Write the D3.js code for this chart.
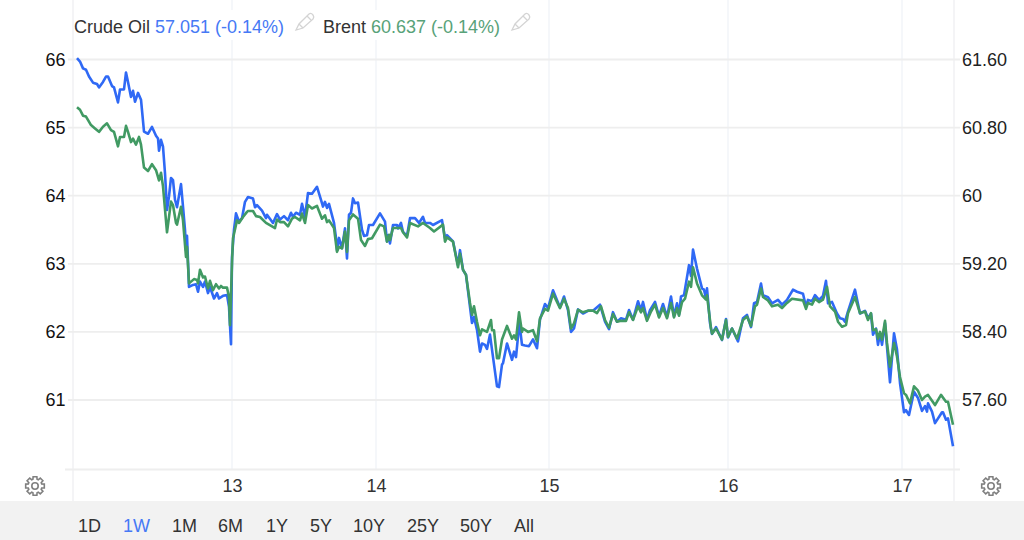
<!DOCTYPE html>
<html>
<head>
<meta charset="utf-8">
<script src="https://cdn.jsdelivr.net/npm/d3@7"></script>
<style>
  html, body { margin: 0; padding: 0; background: #fff; }
  svg { display: block; font-family: "Liberation Sans", Arial, sans-serif; }
</style>
</head>
<body>
<div id="chart"></div>
<script>
// [bar number, price], bars run along the ordinal time axis
const crude = [[1,66.02],[4,65.97],[7,65.87],[10,65.85],[13,65.75],[17,65.66],[21,65.64],[23,65.59],[27,65.67],[30,65.75],[32,65.75],[36,65.61],[38,65.59],[42,65.37],[44,65.56],[48,65.56],[50,65.81],[52,65.67],[55,65.45],[57,65.54],[59,65.38],[62,65.51],[65,65.41],[68,64.94],[72,64.91],[76,65.01],[80,64.88],[82,64.84],[83,64.66],[85,64.82],[87,64.72],[89,64.33],[91,63.79],[93,63.99],[95,64.26],[97,64.23],[99,63.94],[101,63.83],[105,64.17],[107,63.84],[109,63.50],[110,63.20],[111,63.41],[113,62.66],[117,62.69],[120,62.70],[122,62.59],[124,62.74],[127,62.66],[129,62.74],[132,62.57],[134,62.66],[138,62.49],[141,62.57],[143,62.49],[147,62.53],[151,62.54],[153,62.37],[155,61.82],[156,63.10],[158,63.50],[160,63.74],[163,63.62],[166,63.67],[169,63.91],[172,63.98],[177,63.96],[179,63.83],[181,63.86],[186,63.78],[190,63.67],[191,63.72],[197,63.60],[201,63.73],[204,63.65],[208,63.70],[212,63.64],[215,63.75],[217,63.69],[220,63.75],[224,63.72],[226,63.88],[229,63.69],[232,64.04],[236,64.03],[241,64.13],[245,63.94],[247,63.84],[249,63.91],[251,63.82],[253,63.88],[258,63.60],[260,63.38],[261,63.20],[263,63.38],[266,63.23],[269,63.52],[271,63.08],[273,63.72],[275,63.75],[277,63.96],[279,63.89],[282,63.90],[286,63.50],[288,63.41],[291,63.42],[293,63.57],[297,63.57],[304,63.74],[309,63.62],[311,63.33],[312,63.42],[314,63.30],[317,63.57],[321,63.57],[322,63.52],[325,63.60],[327,63.47],[331,63.41],[334,63.67],[339,63.67],[343,63.60],[347,63.69],[349,63.60],[354,63.60],[357,63.57],[366,63.64],[369,63.38],[371,63.42],[377,63.33],[382,62.98],[384,63.20],[387,62.91],[390,62.84],[396,62.13],[398,62.22],[401,62.03],[404,61.71],[406,61.83],[409,61.81],[411,61.75],[414,61.96],[416,61.74],[421,61.20],[423,61.19],[426,61.52],[427,61.54],[431,61.83],[436,61.59],[438,61.71],[440,61.63],[442,61.93],[443,62.18],[446,61.81],[449,61.80],[453,61.79],[457,61.89],[461,61.76],[464,62.18],[469,62.41],[472,62.35],[477,62.61],[484,62.36],[488,62.52],[492,62.32],[495,62.00],[498,62.05],[502,62.33],[507,62.27],[512,62.31],[517,62.31],[524,62.40],[529,62.15],[533,62.04],[537,62.29],[541,62.15],[545,62.20],[550,62.18],[553,62.32],[557,62.18],[562,62.45],[565,62.32],[567,62.44],[571,62.18],[574,62.32],[579,62.44],[583,62.23],[587,62.41],[591,62.22],[595,62.52],[598,62.23],[601,62.42],[603,62.25],[605,62.52],[608,62.54],[613,62.98],[615,62.82],[617,63.21],[621,62.93],[626,62.64],[628,62.62],[630,62.49],[631,62.64],[634,62.13],[636,61.97],[640,62.07],[646,61.88],[650,62.19],[652,61.92],[656,62.05],[662,61.86],[667,62.20],[671,62.25],[675,62.07],[678,62.42],[681,62.44],[685,62.71],[687,62.54],[692,62.51],[696,62.42],[702,62.47],[706,62.40],[711,62.47],[717,62.62],[721,62.59],[727,62.56],[730,62.37],[732,62.47],[736,62.45],[739,62.54],[743,62.47],[747,62.53],[750,62.75],[752,62.42],[756,62.44],[761,62.27],[764,62.20],[767,62.19],[769,62.15],[772,62.30],[779,62.62],[784,62.27],[789,62.31],[792,62.20],[795,62.27],[797,61.96],[800,62.05],[802,61.81],[804,61.98],[806,61.81],[809,62.13],[811,61.78],[814,61.26],[818,61.98],[821,61.74],[824,61.25],[828,60.82],[830,60.85],[833,60.78],[838,61.12],[842,61.03],[846,60.84],[849,60.91],[851,60.83],[852,60.95],[856,60.83],[859,60.66],[866,60.82],[867,60.82],[870,60.71],[872,60.73],[877,60.32]];

const brent = [[1,61.04],[4,61.01],[7,60.94],[10,60.93],[15,60.83],[19,60.79],[23,60.75],[27,60.81],[31,60.85],[35,60.77],[38,60.75],[42,60.58],[44,60.69],[48,60.69],[50,60.82],[52,60.75],[55,60.63],[57,60.67],[60,60.60],[63,60.69],[65,60.60],[68,60.33],[72,60.29],[76,60.37],[80,60.30],[83,60.18],[85,60.27],[87,60.11],[91,59.57],[95,59.93],[97,59.89],[100,59.68],[101,59.66],[105,59.87],[107,59.71],[110,59.28],[111,59.40],[113,58.97],[118,59.02],[121,59.01],[122,58.97],[124,59.13],[127,59.04],[129,59.05],[132,58.91],[134,59.00],[137,58.89],[140,58.96],[143,58.91],[145,58.94],[147,58.92],[151,58.92],[153,58.81],[154,58.48],[156,59.21],[157,59.50],[161,59.71],[163,59.68],[167,59.75],[171,59.81],[172,59.82],[177,59.82],[180,59.76],[184,59.75],[190,59.68],[199,59.62],[201,59.72],[204,59.69],[208,59.69],[212,59.64],[216,59.73],[219,59.75],[224,59.71],[226,59.79],[229,59.68],[232,59.89],[236,59.85],[241,59.88],[246,59.73],[249,59.77],[251,59.69],[253,59.71],[258,59.62],[261,59.34],[263,59.40],[266,59.38],[269,59.58],[271,59.34],[273,59.71],[277,59.78],[282,59.73],[285,59.48],[289,59.41],[292,59.49],[296,59.50],[304,59.66],[308,59.64],[311,59.46],[313,59.54],[314,59.48],[317,59.62],[325,59.62],[327,59.57],[331,59.51],[334,59.68],[342,59.64],[347,59.68],[354,59.62],[358,59.58],[367,59.66],[369,59.46],[371,59.51],[377,59.46],[382,59.16],[384,59.32],[387,59.13],[390,59.07],[394,58.74],[396,58.60],[398,58.70],[401,58.52],[404,58.36],[406,58.43],[411,58.40],[415,58.54],[416,58.42],[418,58.42],[421,58.09],[423,58.09],[426,58.31],[431,58.47],[436,58.32],[438,58.36],[440,58.31],[443,58.63],[446,58.40],[447,58.44],[452,58.40],[457,58.42],[461,58.29],[464,58.56],[469,58.67],[472,58.65],[477,58.85],[484,58.68],[488,58.79],[492,58.68],[495,58.44],[498,58.50],[502,58.66],[507,58.63],[512,58.65],[517,58.65],[521,58.62],[525,58.70],[529,58.54],[533,58.45],[537,58.61],[541,58.52],[545,58.53],[550,58.53],[553,58.63],[557,58.54],[562,58.70],[565,58.63],[567,58.68],[571,58.53],[575,58.64],[579,58.72],[583,58.57],[587,58.68],[591,58.56],[595,58.74],[598,58.57],[601,58.68],[603,58.59],[606,58.75],[609,58.79],[613,58.99],[615,58.93],[617,59.16],[621,58.97],[626,58.83],[630,58.78],[631,58.83],[635,58.44],[636,58.38],[640,58.44],[646,58.31],[650,58.54],[652,58.34],[656,58.44],[661,58.32],[667,58.54],[671,58.58],[675,58.47],[679,58.70],[681,58.72],[685,58.91],[687,58.81],[692,58.77],[696,58.70],[702,58.72],[706,58.68],[711,58.74],[716,58.79],[727,58.77],[730,58.67],[732,58.74],[736,58.72],[739,58.79],[743,58.75],[747,58.78],[751,58.93],[754,58.70],[759,58.64],[762,58.52],[766,58.46],[770,58.48],[772,58.62],[779,58.81],[784,58.62],[789,58.64],[792,58.54],[795,58.62],[797,58.42],[800,58.43],[802,58.32],[804,58.40],[806,58.31],[809,58.53],[811,58.27],[814,57.99],[818,58.27],[821,58.11],[824,57.87],[828,57.68],[830,57.66],[834,57.56],[838,57.76],[842,57.71],[846,57.60],[849,57.64],[852,57.66],[859,57.54],[865,57.66],[870,57.58],[872,57.58],[877,57.31]];

const dayBars = [156, 300, 473, 652, 826];
const dayLabels = ["13", "14", "15", "16", "17"];
const leftTicks = [61, 62, 63, 64, 65, 66];
const rightTicks = [57.6, 58.4, 59.2, 60, 60.8, 61.6];
const rightLabels = ["57.60", "58.40", "59.20", "60", "60.80", "61.60"];
const ranges = ["1D", "1W", "1M", "6M", "1Y", "5Y", "10Y", "25Y", "50Y", "All"];
const rangeX = [78, 123, 172, 218, 266, 310, 353, 407, 460, 514];

const width = 1024, height = 540;
const fontSize = "18px";
const svg = d3.select("#chart").append("svg")
    .attr("width", width)
    .attr("height", height);

// Scales
const x = d3.scaleLinear().domain([-3, 878]).range([73, 954]);
const yLeft = d3.scaleLinear().domain([61, 66]).range([400, 59.5]);
const yRight = d3.scaleLinear().domain([57.6, 61.6]).range([400, 59.5]);

// Grid
const gridColor = "#eeeeee";
const vGridColor = "#f2f5f8";

svg.append("g")
    .selectAll("line")
    .data(dayBars)
    .join("line")
    .attr("x1", d => x(d)).attr("x2", d => x(d))
    .attr("y1", 0).attr("y2", 469)
    .attr("stroke", vGridColor)
    .attr("stroke-width", 1.5);

svg.append("g")
    .selectAll("line")
    .data(x.domain())
    .join("line")
    .attr("x1", d => x(d)).attr("x2", d => x(d))
    .attr("y1", 0).attr("y2", 501)
    .attr("stroke", "#f0f1f3")
    .attr("stroke-width", 1.5);

svg.append("g")
    .selectAll("line")
    .data(leftTicks)
    .join("line")
    .attr("x1", 68).attr("x2", 960)
    .attr("y1", d => yLeft(d)).attr("y2", d => yLeft(d))
    .attr("stroke", gridColor)
    .attr("stroke-width", 1.8);

// Bottom baseline
svg.append("line")
    .attr("x1", 65).attr("x2", 960)
    .attr("y1", 469.5).attr("y2", 469.5)
    .attr("stroke", gridColor)
    .attr("stroke-width", 1.8);

// Axes
const leftAxis = svg.append("g")
    .attr("transform", "translate(65.5,0)")
    .call(d3.axisLeft(yLeft).tickValues(leftTicks).tickFormat(d3.format("d")).tickSize(0).tickPadding(0));
const rightAxis = svg.append("g")
    .attr("transform", "translate(962,0)")
    .call(d3.axisRight(yRight).tickValues(rightTicks).tickFormat((d, i) => rightLabels[i]).tickSize(0).tickPadding(0));
const bottomAxis = svg.append("g")
    .attr("transform", "translate(0,479.5)")
    .call(d3.axisBottom(x).tickValues(dayBars).tickFormat((d, i) => dayLabels[i]).tickSize(0).tickPadding(0));

[leftAxis, rightAxis, bottomAxis].forEach(a => {
    a.select(".domain").remove();
    a.selectAll("text")
        .attr("font-family", '"Liberation Sans", Arial, sans-serif')
        .attr("font-size", fontSize);
});
leftAxis.selectAll("text").attr("fill", "#111");
rightAxis.selectAll("text").attr("fill", "#222");
bottomAxis.selectAll("text").attr("fill", "#333");

// Lines
const crudeLine = d3.line().x(d => x(d[0])).y(d => yLeft(d[1]));
const brentLine = d3.line().x(d => x(d[0])).y(d => yRight(d[1]));

svg.append("path")
    .datum(crude)
    .attr("fill", "none")
    .attr("stroke", "#2f69f5")
    .attr("stroke-width", 2.6)
    .attr("stroke-linejoin", "round")
    .attr("d", crudeLine);

svg.append("path")
    .datum(brent)
    .attr("fill", "none")
    .attr("stroke", "#419a63")
    .attr("stroke-width", 2.6)
    .attr("stroke-linejoin", "round")
    .attr("d", brentLine);

// Legend
svg.append("rect")
    .attr("x", 74).attr("y", 10)
    .attr("width", 462).attr("height", 30)
    .attr("fill", "#fff");

const legend = svg.append("text")
    .attr("x", 74).attr("y", 33)
    .attr("font-size", fontSize);
legend.append("tspan").attr("fill", "#333").text("Crude Oil ");
legend.append("tspan").attr("fill", "#4679f5").text("57.051 (-0.14%)");

const legend2 = svg.append("text")
    .attr("x", 323).attr("y", 33)
    .attr("font-size", fontSize);
legend2.append("tspan").attr("fill", "#333").text("Brent ");
legend2.append("tspan").attr("fill", "#58a279").text("60.637 (-0.14%)");

// Pencil icons
[[296, 30], [512, 30]].forEach(p => {
    const g = svg.append("g")
        .attr("transform", `translate(${p[0]},${p[1]})`)
        .attr("fill", "none")
        .attr("stroke", "#d4d4d4")
        .attr("stroke-width", 1.3);
    g.append("path").attr("d", "M0,0 L3,-6 L13,-16 Q15,-17.5 17,-15 Q18.5,-13 17,-11 L7,-2 Z");
    g.append("path").attr("d", "M3,-6 L7,-2 M11,-14 L15,-10");
});

// Gear icons
function gearPath(r1, r2) {
    const pts = [];
    for (let i = 0; i < 8; i++) {
        const a = i * Math.PI / 4;
        [[-0.3, r1], [-0.2, r2], [0.2, r2], [0.3, r1]].forEach(o => pts.push([a + o[0], o[1]]));
    }
    return d3.lineRadial().curve(d3.curveLinearClosed)(pts);
}
[35, 991].forEach(cx => {
    const g = svg.append("g")
        .attr("transform", `translate(${cx},486)`)
        .attr("fill", "none")
        .attr("stroke", "#808080")
        .attr("stroke-width", 1.6);
    g.append("path").attr("d", gearPath(7, 9.5));
    g.append("circle").attr("r", 3.2);
});

// Range selector
svg.append("rect")
    .attr("x", 0).attr("y", 501)
    .attr("width", width).attr("height", 39)
    .attr("fill", "#f2f2f2");

svg.append("g")
    .selectAll("text")
    .data(ranges)
    .join("text")
    .attr("x", (d, i) => rangeX[i])
    .attr("y", 532)
    .attr("font-size", fontSize)
    .attr("fill", d => d === "1W" ? "#4679f5" : "#333")
    .text(d => d);
</script>
</body>
</html>
